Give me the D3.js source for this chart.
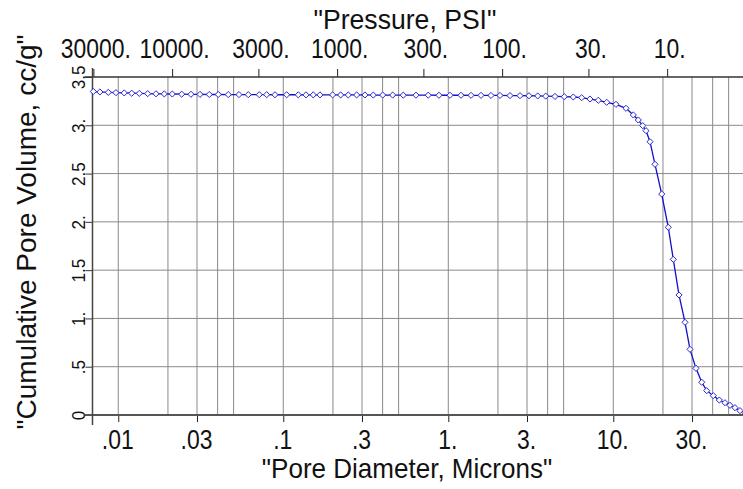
<!DOCTYPE html>
<html>
<head>
<meta charset="utf-8">
<script src="https://cdn.jsdelivr.net/npm/d3@7"></script>
<style>
  body { margin: 0; background: #fff; }
  svg { display: block; }
  text { font-family: 'Liberation Sans', Arial, sans-serif; fill: #111; }
</style>
</head>
<body>
<svg width="743" height="489"></svg>
<script>
// pore diameter (microns)
const diameters = [0.00706, 0.00774, 0.0087, 0.00968, 0.01087, 0.01206, 0.01341, 0.01508, 0.01693, 0.01901,
  0.02125, 0.02423, 0.02758, 0.03127, 0.0356, 0.04036, 0.04642, 0.05389, 0.06136, 0.07153,
  0.0793, 0.08906, 0.1048, 0.1233, 0.1373, 0.152, 0.1669, 0.1992, 0.2228, 0.2477,
  0.2785, 0.3127, 0.3511, 0.4003, 0.4603, 0.5337, 0.637, 0.756, 0.8782, 1.024,
  1.194, 1.373, 1.578, 1.815, 2.057, 2.365, 2.72, 3.083, 3.483, 3.894,
  4.434, 5.047, 5.722, 6.435, 7.225, 8.111, 9.12, 10.38, 11.94, 13.22,
  14.17, 15.08, 15.79, 16.69, 17.89, 19.65, 21.54, 23.1, 25.01, 27.2,
  29.16, 31.71, 34.35, 36.83, 40.37, 43.89, 47.53, 50.96, 54.66, 58.6, 62.84];

// cumulative pore volume (cc/g)
const volumes = [3.350, 3.345, 3.341, 3.338, 3.335, 3.332, 3.330, 3.328, 3.326, 3.325,
  3.324, 3.322, 3.321, 3.320, 3.319, 3.319, 3.318, 3.318, 3.317, 3.317,
  3.317, 3.316, 3.316, 3.316, 3.315, 3.315, 3.315, 3.315, 3.314, 3.314,
  3.314, 3.314, 3.313, 3.313, 3.313, 3.312, 3.312, 3.312, 3.311, 3.311,
  3.311, 3.310, 3.310, 3.309, 3.309, 3.308, 3.307, 3.306, 3.304, 3.302,
  3.299, 3.296, 3.293, 3.286, 3.272, 3.259, 3.238, 3.217, 3.176, 3.107,
  3.055, 2.996, 2.944, 2.830, 2.596, 2.288, 1.944, 1.612, 1.243, 0.960,
  0.680, 0.483, 0.339, 0.252, 0.200, 0.155, 0.127, 0.100, 0.076, 0.045, 0.025];

const diamTicks = [0.01, 0.03, 0.1, 0.3, 1, 3, 10, 30];
const diamLabels = ['.01', '.03', '.1', '.3', '1.', '3.', '10.', '30.'];
const pressTicks = [30000, 10000, 3000, 1000, 300, 100, 30, 10];
const pressLabels = ['30000.', '10000.', '3000.', '1000.', '300.', '100.', '30.', '10.'];
const volTicks = [0, 0.5, 1, 1.5, 2, 2.5, 3, 3.5];
const volLabels = ['0', '.5', '1.', '1.5', '2.', '2.5', '3.', '3.5'];

const WASHBURN = 212; // diameter (um) = WASHBURN / pressure (psi)
const SQUEEZE = 0.85;  // the original lettering is narrow

const pLeft = 92.5, pRight = 743, pTop = 77, pBottom = 415;

const x = d3.scaleLog().domain([0.00698, 61.1]).range([pLeft, pRight]);
const xp = d3.scaleLog().domain([WASHBURN / 0.00698, WASHBURN / 61.1]).range([pLeft, pRight]);
const y = d3.scaleLinear().domain([0, 3.5]).range([pBottom, pTop]);

const svg = d3.select('svg');
svg.append('rect').attr('width', 743).attr('height', 489).attr('fill', '#fff');

// vertical grid: 1,2,3,4,5 in every decade
const gridX = [];
for (let k = -3; k <= 1; k++) {
  [1, 2, 3, 4, 5].forEach(m => {
    const v = m * Math.pow(10, k);
    if (v > x.domain()[0] && v < x.domain()[1]) gridX.push(v);
  });
}
svg.append('g').selectAll('line')
  .data(gridX)
  .join('line')
  .attr('x1', d => x(d)).attr('x2', d => x(d))
  .attr('y1', pTop).attr('y2', pBottom)
  .attr('stroke', '#8a8a8a').attr('stroke-width', 1);

svg.append('g').selectAll('line')
  .data(volTicks.slice(1, -1))
  .join('line')
  .attr('x1', pLeft).attr('x2', pRight)
  .attr('y1', d => y(d)).attr('y2', d => y(d))
  .attr('stroke', '#8a8a8a').attr('stroke-width', 1);

// bottom axis
const xAxis = svg.append('g')
  .attr('transform', `translate(0,${pBottom})`)
  .call(d3.axisBottom(x).tickValues(diamTicks).tickFormat((d, i) => diamLabels[i]).tickSize(7).tickSizeOuter(0));
xAxis.select('.domain').remove();
xAxis.selectAll('line').attr('stroke', '#222');
xAxis.selectAll('text')
  .attr('x', 0).attr('y', 0).attr('dy', 0)
  .attr('transform', `translate(-1,34) scale(${SQUEEZE},1)`)
  .attr('font-size', 27);

// top axis (pressure)
const pAxis = svg.append('g')
  .attr('transform', `translate(0,${pTop})`)
  .call(d3.axisTop(xp).tickValues(pressTicks).tickFormat((d, i) => pressLabels[i]).tickSize(8).tickSizeOuter(0));
pAxis.select('.domain').remove();
pAxis.selectAll('line').attr('stroke', '#222');
pAxis.selectAll('text')
  .attr('x', 0).attr('y', 0).attr('dy', 0)
  .attr('transform', `translate(2,-19) scale(${SQUEEZE},1)`)
  .attr('font-size', 27);

// left axis
const yAxis = svg.append('g')
  .attr('transform', `translate(${pLeft},0)`)
  .call(d3.axisLeft(y).tickValues(volTicks).tickFormat((d, i) => volLabels[i]).tickSize(7).tickSizeOuter(0));
yAxis.select('.domain').remove();
yAxis.selectAll('line').attr('stroke', '#333');
yAxis.selectAll('text')
  .attr('x', 0).attr('y', 0).attr('dy', 0)
  .attr('text-anchor', 'middle')
  .attr('transform', 'translate(-8,0) rotate(-90) scale(0.9,1)')
  .attr('font-size', 19);

// frame lines
svg.append('line').attr('x1', 85).attr('x2', pRight).attr('y1', pTop).attr('y2', pTop)
  .attr('stroke', '#333').attr('stroke-width', 1.5);
svg.append('line').attr('x1', 85).attr('x2', pRight).attr('y1', pBottom).attr('y2', pBottom)
  .attr('stroke', '#555').attr('stroke-width', 2);
svg.append('line').attr('x1', pLeft).attr('x2', pLeft).attr('y1', 68).attr('y2', 425)
  .attr('stroke', '#444').attr('stroke-width', 1.5);

// curve
const pts = diameters.map((d, i) => ({d: d, v: volumes[i]}));
const line = d3.line().x(p => x(p.d)).y(p => y(p.v));
svg.append('path')
  .datum(pts)
  .attr('d', line)
  .attr('fill', 'none')
  .attr('stroke', '#1010c8')
  .attr('stroke-width', 1.3);

svg.append('g').selectAll('path')
  .data(pts)
  .join('path')
  .attr('d', d3.symbol(d3.symbolDiamond2, 24))
  .attr('transform', p => `translate(${x(p.d)},${y(p.v)})`)
  .attr('fill', '#fff')
  .attr('stroke', '#2a2ad0')
  .attr('stroke-width', 1);

// titles
svg.append('text').attr('text-anchor', 'middle')
  .attr('transform', 'translate(405,29) scale(0.95,1)')
  .attr('font-size', 28).text('"Pressure, PSI"');
svg.append('text').attr('text-anchor', 'middle')
  .attr('transform', 'translate(407,478) scale(0.93,1)')
  .attr('font-size', 28).text('"Pore Diameter, Microns"');
svg.append('text').attr('text-anchor', 'middle')
  .attr('transform', 'translate(36,232) rotate(-90)')
  .attr('font-size', 28).text('"Cumulative Pore Volume, cc/g"');
</script>
</body>
</html>
